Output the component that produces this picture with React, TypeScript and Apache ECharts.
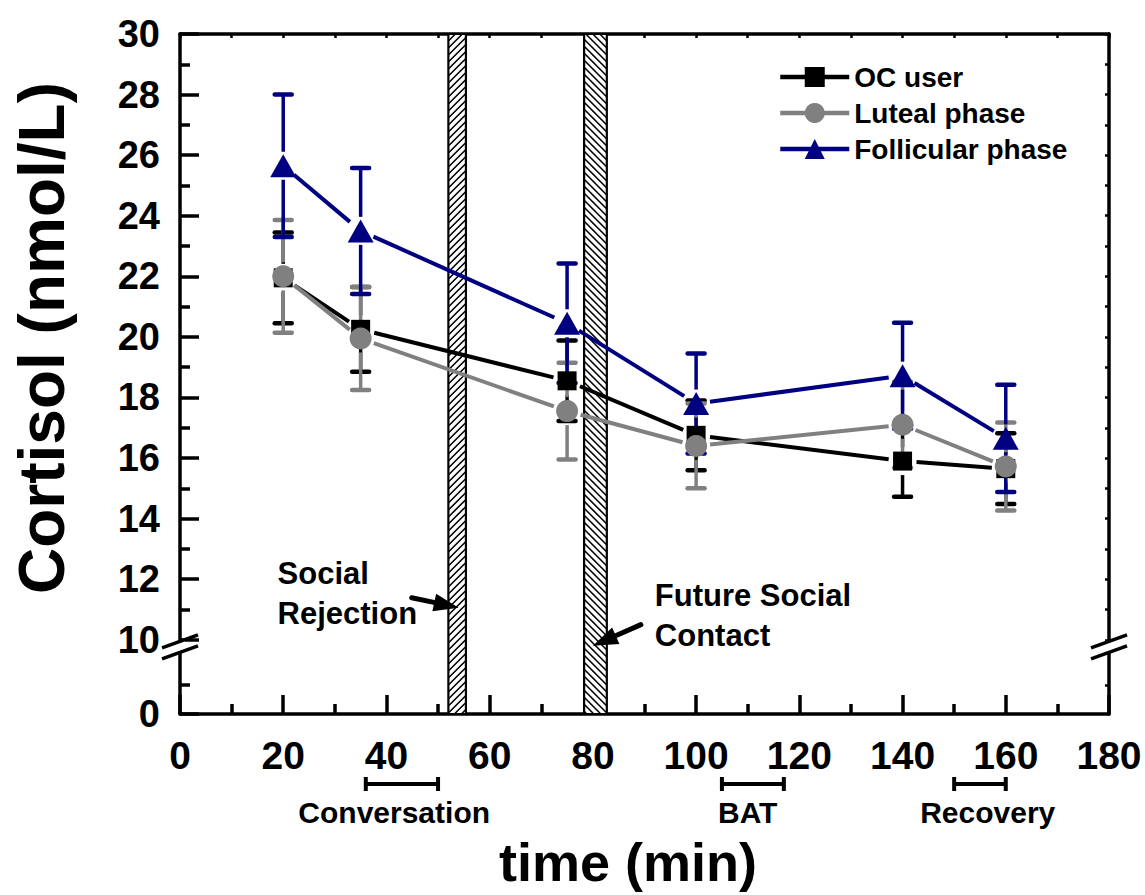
import React, { useEffect, useRef } from "react";
import * as echarts from "echarts";

// ---------- data ----------
const TIMES = [20, 35, 75, 100, 140, 160];
const OC_MEAN = [21.95, 20.25, 18.55, 16.75, 15.9, 15.65];
const OC_ERR = [1.5, 1.4, 1.33, 1.15, 1.18, 1.17];
const LUTEAL_MEAN = [22.0, 19.95, 17.55, 16.4, 17.1, 15.72];
const LUTEAL_ERR = [1.86, 1.7, 1.6, 1.4, 1.42, 1.45];
const FOLL_MEAN = [25.65, 23.5, 20.45, 17.8, 18.72, 16.65];
const FOLL_ERR = [2.35, 2.08, 1.97, 1.65, 1.75, 1.77];

const SERIES_NAMES = ["OC user", "Luteal phase", "Follicular phase"];

// x axis
const X_MIN = 0;
const X_MAX = 180;
const X_STEP = 20;

// broken y axis: upper segment 10..30, lower segment 0..10 compressed
const Y_MAX = 30;
const Y_MAJOR = [10, 12, 14, 16, 18, 20, 22, 24, 26, 28, 30];
const Y_MINOR = [11, 13, 15, 17, 19, 21, 23, 25, 27, 29];
const Y_RIGHT = [10, 11, 12, 13, 14, 15, 16, 17, 18, 19, 20, 21, 22, 23, 24, 25, 26, 27, 28, 29, 30];
const AXIS_MIN = 7.55; // axis value where the lower segment's 0 sits
const LOWER_SCALE = 0.19; // axis units per unit in the lower segment
const LOWER_MINOR = [5];
const BREAK_AT = 9.75;

// stress-task intervals (hatched bars)
const HATCH_START = [52, 78.3];
const HATCH_END = [55.4, 82.7];
const HATCH_DIRS = ["up", "down"];

// annotations
const NOTE_TEXTS = ["Social\nRejection", "Future Social\nContact"];
const NOTE_X = [18.9, 92.0];
const NOTE_Y = [11.54, 10.79];
const ARROW_FROM_X = [44.9, 89.3];
const ARROW_FROM_Y = [11.39, 10.5];
const ARROW_TO_X = [54.0, 80.0];
const ARROW_TO_Y = [11.06, 9.8];

// phases under the x axis
const PHASE_NAMES = ["Conversation", "BAT", "Recovery"];
const PHASE_START = [36, 105, 150];
const PHASE_END = [50, 117, 160];
const PHASE_LABEL_X = [41.5, 110, 156.5];

const FONT = "'Liberation Sans', Arial, Helvetica, sans-serif";
const C_OC = "#000000";
const C_LUT = "#808080";
const C_FOL = "#000080";
const GAP = 14; // gap (px) between a marker centre and its lines

const lowerToAxis = (v: number) => AXIS_MIN + v * LOWER_SCALE;

function errorSeries(name: string, mean: number[], err: number[], color: string) {
  return {
    type: "custom",
    name: name + " SE",
    xAxisIndex: 0,
    yAxisIndex: 0,
    clip: false,
    data: TIMES.map((t, i) => [t, mean[i], err[i]]),
    renderItem: (params: any, api: any) => {
      const x = api.value(0);
      const y = api.value(1);
      const e = api.value(2);
      const c = api.coord([x, y]);
      const top = api.coord([x, y + e]);
      const bot = api.coord([x, y - e]);
      const cw = 8.5;
      const children: any[] = [
        { type: "line", shape: { x1: top[0] - cw, y1: top[1], x2: top[0] + cw, y2: top[1] }, style: { stroke: color, lineWidth: 4.5, lineCap: "round" } },
        { type: "line", shape: { x1: bot[0] - cw, y1: bot[1], x2: bot[0] + cw, y2: bot[1] }, style: { stroke: color, lineWidth: 4.5, lineCap: "round" } },
      ];
      if (top[1] < c[1] - GAP)
        children.push({ type: "line", shape: { x1: c[0], y1: c[1] - GAP, x2: top[0], y2: top[1] }, style: { stroke: color, lineWidth: 3.5 } });
      if (bot[1] > c[1] + GAP)
        children.push({ type: "line", shape: { x1: c[0], y1: c[1] + GAP, x2: bot[0], y2: bot[1] }, style: { stroke: color, lineWidth: 3.5 } });
      return { type: "group", children };
    },
  };
}

function connectorSeries(name: string, mean: number[], color: string) {
  return {
    type: "custom",
    name: name + " line",
    xAxisIndex: 0,
    yAxisIndex: 0,
    clip: false,
    data: TIMES.slice(0, -1).map((t, i) => [t, mean[i], TIMES[i + 1], mean[i + 1]]),
    renderItem: (params: any, api: any) => {
      const p = api.coord([api.value(0), api.value(1)]);
      const q = api.coord([api.value(2), api.value(3)]);
      const dx = q[0] - p[0];
      const dy = q[1] - p[1];
      const len = Math.sqrt(dx * dx + dy * dy);
      if (len <= 2 * GAP) return { type: "group", children: [] };
      const ux = dx / len;
      const uy = dy / len;
      return {
        type: "line",
        shape: { x1: p[0] + ux * GAP, y1: p[1] + uy * GAP, x2: q[0] - ux * GAP, y2: q[1] - uy * GAP },
        style: { stroke: color, lineWidth: 4 },
      };
    },
  };
}

function markerSeries(name: string, mean: number[], color: string, symbol: string, size: any) {
  return {
    type: "line",
    name,
    xAxisIndex: 0,
    yAxisIndex: 0,
    data: TIMES.map((t, i) => [t, mean[i]]),
    symbol,
    symbolSize: size,
    showSymbol: true,
    itemStyle: { color },
    lineStyle: { color, width: 0, opacity: 0 },
  };
}

export default function App() {
  const ref = useRef<HTMLDivElement>(null);

  useEffect(() => {
    if (!ref.current) return;
    const chart = echarts.init(ref.current, undefined, { renderer: "svg" });

    const axisLineStyle = { color: "#000", width: 3.5 };
    const labelStyle = { fontSize: 39, fontWeight: "bold", color: "#000", fontFamily: FONT };

    const option: any = {
      animation: false,
      backgroundColor: "#ffffff",
      textStyle: { fontFamily: FONT },
      grid: { left: 180, right: 36, top: 34, bottom: 181, containLabel: false },
      legend: {
        data: SERIES_NAMES,
        orient: "vertical",
        left: 773,
        top: 58,
        itemWidth: 69,
        itemHeight: 25,
        itemGap: 8,
        selectedMode: false,
        lineStyle: { width: 4.5, opacity: 1 },
        textStyle: { fontSize: 28, fontWeight: "bold", color: "#000", fontFamily: FONT },
      },
      xAxis: [
        {
          type: "value",
          min: X_MIN,
          max: X_MAX,
          interval: X_STEP,
          position: "bottom",
          axisLine: { show: true, onZero: false, lineStyle: axisLineStyle },
          axisTick: { show: true, inside: true, length: 19, lineStyle: { color: "#000", width: 3.5 } },
          minorTick: { show: true, splitNumber: 2, length: 10, lineStyle: { color: "#000", width: 3.5 } },
          axisLabel: { ...labelStyle, margin: 22 },
          splitLine: { show: false },
          minorSplitLine: { show: false },
        },
        {
          type: "value",
          min: X_MIN,
          max: X_MAX,
          interval: X_STEP / 2,
          position: "top",
          axisLine: { show: true, onZero: false, lineStyle: axisLineStyle },
          axisTick: { show: true, inside: true, length: 4, lineStyle: { color: "#000", width: 2.5 } },
          axisLabel: { show: false },
          splitLine: { show: false },
        },
      ],
      yAxis: [
        {
          type: "value",
          min: AXIS_MIN,
          max: Y_MAX,
          position: "left",
          axisLine: { show: true, onZero: false, lineStyle: axisLineStyle },
          axisTick: { show: true, inside: true, length: 19, lineStyle: { color: "#000", width: 3.5 }, customValues: [AXIS_MIN, ...Y_MAJOR] },
          axisLabel: {
            ...labelStyle,
            fontSize: 38,
            margin: 20,
            showMinLabel: true,
            showMaxLabel: true,
            customValues: [AXIS_MIN, ...Y_MAJOR],
            formatter: (v: number) => (v < 10 - 1e-6 ? "0" : String(Math.round(v))),
          },
          splitLine: { show: false },
        },
        {
          type: "value",
          min: AXIS_MIN,
          max: Y_MAX,
          position: "left",
          axisLine: { show: false },
          axisTick: { show: true, inside: true, length: 10, lineStyle: { color: "#000", width: 3.5 }, customValues: [...LOWER_MINOR.map(lowerToAxis), ...Y_MINOR] },
          axisLabel: { show: false },
          splitLine: { show: false },
        },
        {
          type: "value",
          min: AXIS_MIN,
          max: Y_MAX,
          position: "right",
          axisLine: { show: true, onZero: false, lineStyle: axisLineStyle },
          axisTick: { show: true, inside: true, length: 4, lineStyle: { color: "#000", width: 2.5 }, customValues: [...LOWER_MINOR.map(lowerToAxis), ...Y_RIGHT] },
          axisLabel: { show: false },
          splitLine: { show: false },
        },
      ],
      graphic: [
        {
          type: "text",
          x: 42,
          y: 338,
          rotation: Math.PI / 2,
          style: { text: "Cortisol (nmol/L)", font: `bold 64px ${FONT}`, fill: "#000", align: "center", verticalAlign: "middle" },
        },
        {
          type: "text",
          x: 628,
          y: 862,
          style: { text: "time (min)", font: `bold 54px ${FONT}`, fill: "#000", align: "center", verticalAlign: "middle" },
        },
      ],
      series: [
        {
          type: "custom",
          name: "tasks",
          xAxisIndex: 0,
          yAxisIndex: 0,
          clip: false,
          data: HATCH_START.map((s, i) => [s, HATCH_END[i]]),
          renderItem: (params: any, api: any) => {
            const i = params.dataIndex;
            const a = api.coord([api.value(0), Y_MAX]);
            const b = api.coord([api.value(1), AXIS_MIN]);
            const x0 = a[0];
            const y0 = a[1];
            const w = b[0] - a[0];
            const h = b[1] - a[1];
            const s = 7;
            const children: any[] = [{ type: "rect", shape: { x: x0, y: y0, width: w, height: h }, style: { fill: "#fff" } }];
            for (let k = 0; k <= h + w; k += s) {
              if (HATCH_DIRS[i] === "up") {
                const t1 = Math.max(0, k - h);
                const t2 = Math.min(w, k);
                if (t2 > t1)
                  children.push({ type: "line", shape: { x1: x0 + t1, y1: y0 + k - t1, x2: x0 + t2, y2: y0 + k - t2 }, style: { stroke: "#000", lineWidth: 1.6 } });
              } else {
                const kk = k - w;
                const t1 = Math.max(0, -kk);
                const t2 = Math.min(w, h - kk);
                if (t2 > t1)
                  children.push({ type: "line", shape: { x1: x0 + t1, y1: y0 + kk + t1, x2: x0 + t2, y2: y0 + kk + t2 }, style: { stroke: "#000", lineWidth: 1.6 } });
              }
            }
            children.push({ type: "rect", shape: { x: x0, y: y0, width: w, height: h }, style: { fill: "none", stroke: "#000", lineWidth: 2.2 } });
            return { type: "group", children };
          },
        },
        errorSeries(SERIES_NAMES[0], OC_MEAN, OC_ERR, C_OC),
        connectorSeries(SERIES_NAMES[0], OC_MEAN, C_OC),
        markerSeries(SERIES_NAMES[0], OC_MEAN, C_OC, "rect", 19),
        errorSeries(SERIES_NAMES[1], LUTEAL_MEAN, LUTEAL_ERR, C_LUT),
        connectorSeries(SERIES_NAMES[1], LUTEAL_MEAN, C_LUT),
        markerSeries(SERIES_NAMES[1], LUTEAL_MEAN, C_LUT, "circle", 22),
        errorSeries(SERIES_NAMES[2], FOLL_MEAN, FOLL_ERR, C_FOL),
        connectorSeries(SERIES_NAMES[2], FOLL_MEAN, C_FOL),
        markerSeries(SERIES_NAMES[2], FOLL_MEAN, C_FOL, "triangle", [26, 23]),
        {
          type: "custom",
          name: "arrows",
          xAxisIndex: 0,
          yAxisIndex: 0,
          clip: false,
          data: ARROW_FROM_X.map((x, i) => [x, ARROW_FROM_Y[i], ARROW_TO_X[i], ARROW_TO_Y[i]]),
          renderItem: (params: any, api: any) => {
            const p1 = api.coord([api.value(0), api.value(1)]);
            const p2 = api.coord([api.value(2), api.value(3)]);
            const dx = p2[0] - p1[0];
            const dy = p2[1] - p1[1];
            const len = Math.sqrt(dx * dx + dy * dy);
            const ux = dx / len;
            const uy = dy / len;
            const hl = 25;
            const hw = 9;
            const bx = p2[0] - ux * hl;
            const by = p2[1] - uy * hl;
            const nx = -uy;
            const ny = ux;
            return {
              type: "group",
              children: [
                { type: "line", shape: { x1: p1[0], y1: p1[1], x2: bx + ux * 2, y2: by + uy * 2 }, style: { stroke: "#000", lineWidth: 5, lineCap: "round" } },
                {
                  type: "polygon",
                  shape: { points: [[p2[0], p2[1]], [bx + nx * hw, by + ny * hw], [bx - nx * hw, by - ny * hw]] },
                  style: { fill: "#000" },
                },
              ],
            };
          },
        },
        {
          type: "custom",
          name: "notes",
          xAxisIndex: 0,
          yAxisIndex: 0,
          clip: false,
          data: NOTE_X.map((x, i) => [x, NOTE_Y[i]]),
          renderItem: (params: any, api: any) => {
            const p = api.coord([api.value(0), api.value(1)]);
            return {
              type: "text",
              x: p[0],
              y: p[1],
              style: {
                text: NOTE_TEXTS[params.dataIndex],
                font: `bold 31px ${FONT}`,
                lineHeight: 40,
                fill: "#000",
                align: "left",
                verticalAlign: "middle",
              },
            };
          },
        },
        {
          type: "custom",
          name: "phases",
          xAxisIndex: 0,
          yAxisIndex: 0,
          clip: false,
          data: PHASE_START.map((s, i) => [s, PHASE_END[i], PHASE_LABEL_X[i]]),
          renderItem: (params: any, api: any) => {
            const a = api.coord([api.value(0), AXIS_MIN]);
            const b = api.coord([api.value(1), AXIS_MIN]);
            const c = api.coord([api.value(2), AXIS_MIN]);
            const yb = a[1] + 70;
            const st = { stroke: "#000", lineWidth: 4 };
            return {
              type: "group",
              children: [
                { type: "line", shape: { x1: a[0], y1: yb, x2: b[0], y2: yb }, style: st },
                { type: "line", shape: { x1: a[0], y1: yb - 7, x2: a[0], y2: yb + 7 }, style: st },
                { type: "line", shape: { x1: b[0], y1: yb - 7, x2: b[0], y2: yb + 7 }, style: st },
                {
                  type: "text",
                  x: c[0],
                  y: a[1] + 98,
                  style: { text: PHASE_NAMES[params.dataIndex], font: `bold 30px ${FONT}`, fill: "#000", align: "center", verticalAlign: "middle" },
                },
              ],
            };
          },
        },
        {
          type: "custom",
          name: "axis breaks",
          xAxisIndex: 0,
          yAxisIndex: 0,
          clip: false,
          z: 5,
          data: [
            [X_MIN, BREAK_AT],
            [X_MAX, BREAK_AT],
          ],
          renderItem: (params: any, api: any) => {
            const p = api.coord([api.value(0), api.value(1)]);
            const cx = p[0];
            const cy = p[1];
            const st = { stroke: "#000", lineWidth: 3.5 };
            return {
              type: "group",
              children: [
                {
                  type: "polygon",
                  shape: { points: [[cx - 5, cy - 3.5], [cx + 5, cy - 7.2], [cx + 5, cy + 4.2], [cx - 5, cy + 7.6]] },
                  style: { fill: "#fff" },
                },
                { type: "line", shape: { x1: cx - 18, y1: cy + 0.6, x2: cx + 18, y2: cy - 12.4 }, style: st },
                { type: "line", shape: { x1: cx - 18, y1: cy + 11.6, x2: cx + 18, y2: cy - 1.4 }, style: st },
              ],
            };
          },
        },
      ],
    };

    chart.setOption(option);
    return () => chart.dispose();
  }, []);

  return <div ref={ref} style={{ position: "absolute", left: 0, top: 0, width: 1145, height: 895, background: "#fff" }} />;
}
